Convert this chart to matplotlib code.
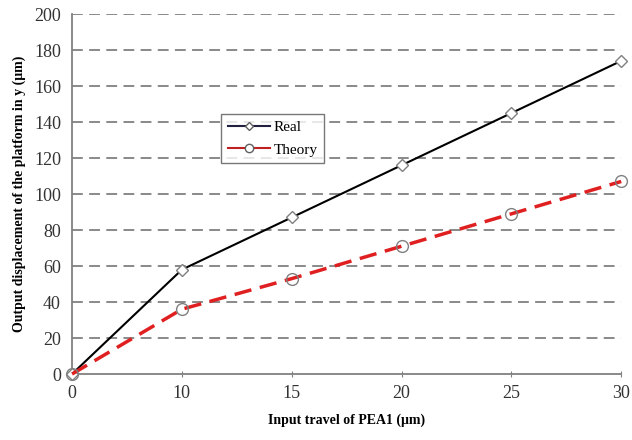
import matplotlib
matplotlib.use("Agg")
import matplotlib.pyplot as plt
from matplotlib.lines import Line2D

categories = ['0', '10', '15', '20', '25', '30']
real = [0, 58, 87, 116, 145, 174]
theory = [0, 36, 53, 71, 89, 107]
y_ticks = list(range(0, 201, 20))

plt.rcParams['font.family'] = ['Liberation Serif', 'DejaVu Serif']

fig = plt.figure(figsize=(6.32, 4.40), dpi=100)
ax = fig.add_axes([0.114, 0.150, 0.869, 0.818])

for y in y_ticks[1:]:
    ax.axhline(y, color='#808080', lw=1.3, ls=(0, (6, 3.5)), zorder=1)

ax.plot(categories, real, color='black', lw=1.5, marker='D', ms=6.5,
        mfc='white', mec='#808080', mew=1.0, zorder=3, clip_on=False)
ax.plot(categories, theory, color='#e02020', lw=2.5, ls=(0, (5, 2.5)), marker='o', ms=8.5,
        mfc='none', mec='#808080', mew=1.0, zorder=3, clip_on=False)

ax.set_xlim(0, 5)
ax.set_ylim(0, 200)
ax.set_yticks(y_ticks)
for s in ['top', 'right']:
    ax.spines[s].set_visible(False)
for s in ['left', 'bottom']:
    ax.spines[s].set_color('#808080')
    ax.spines[s].set_linewidth(1.3)
ax.tick_params(axis='y', length=0, labelsize=13, pad=8, colors='#333333')
ax.tick_params(axis='x', length=4, direction='inout', labelsize=13, pad=6,
               color='#808080', labelcolor='#333333')

ax.set_xlabel('Input travel of PEA1 (μm)', fontsize=10, fontweight='bold', labelpad=8)
ax.set_ylabel('Output displacement of the platform in y (μm)', fontsize=10,
              fontweight='bold', labelpad=6)

handles = [
    Line2D([], [], color='#202040', lw=1.5, marker='D', ms=4.5, mfc='white', mec='#606060'),
    Line2D([], [], color='#c02020', lw=1.5, marker='o', ms=6, mfc='white', mec='#606060'),
]
leg = ax.legend(handles, ['Real', 'Theory'], loc='upper left',
                bbox_to_anchor=(0.257, 0.744), frameon=True,
                fancybox=False, edgecolor='#555555', fontsize=11,
                handlelength=2.8, borderpad=0.45, labelspacing=0.55, handletextpad=0.2)
leg.get_frame().set_linewidth(1.0)

fig.savefig('out.png', dpi=100)
